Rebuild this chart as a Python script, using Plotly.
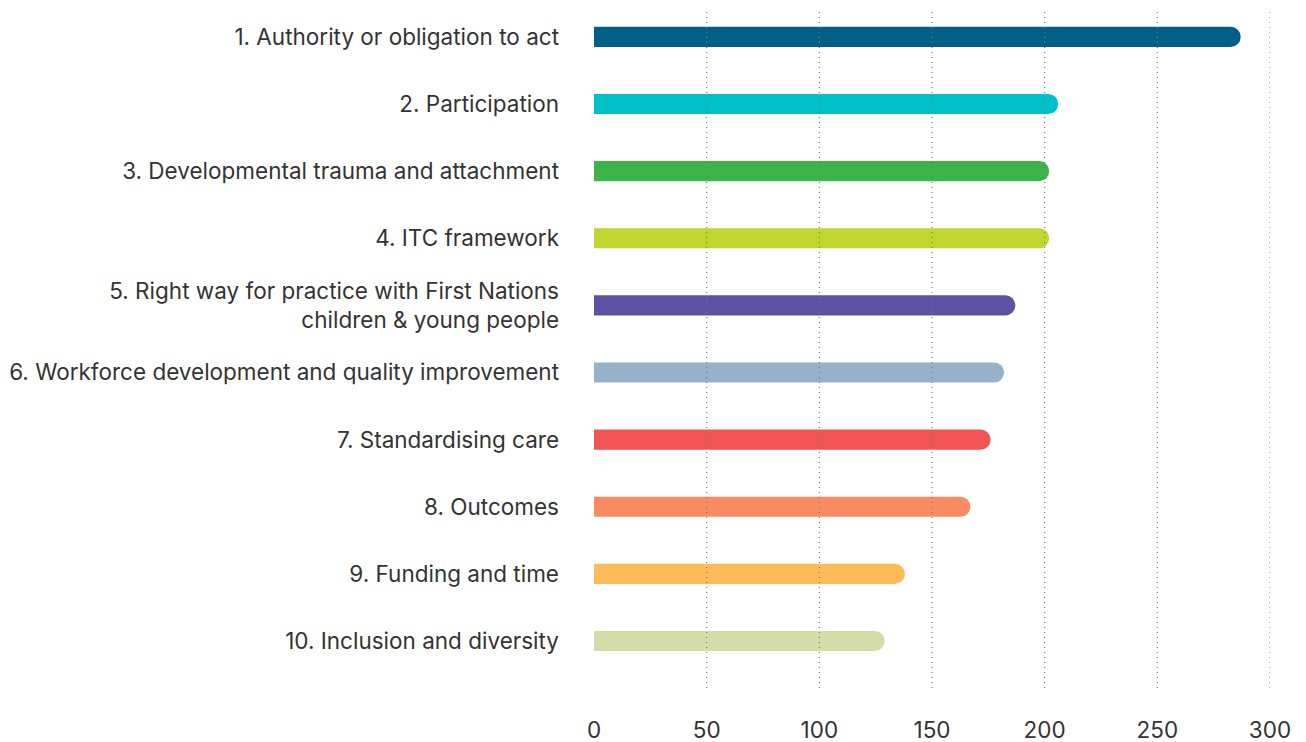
import plotly.graph_objects as go

categories = [
    "1. Authority or obligation to act",
    "2. Participation",
    "3. Developmental trauma and attachment",
    "4. ITC framework",
    "5. Right way for practice with First Nations<br>children & young people",
    "6. Workforce development and quality improvement",
    "7. Standardising care",
    "8. Outcomes",
    "9. Funding and time",
    "10. Inclusion and diversity",
]
values = [287, 206, 202, 202, 187, 182, 176, 167, 138, 129]
colors = ["#005F87", "#00C1CA", "#3BB44A", "#C1D62F", "#5B52A4",
          "#95B2C8", "#F15454", "#F98B62", "#FFBB58", "#D6DCA7"]
x_ticks = [0, 50, 100, 150, 200, 250, 300]

fig = go.Figure(go.Bar(
    x=values, y=categories, orientation="h",
    marker=dict(color=colors, cornerradius=10, line=dict(width=0)),
    width=0.3, hoverinfo="x+y",
))

# dotted gridlines drawn above bars
for t in x_ticks[1:]:
    fig.add_shape(type="line", xref="x", yref="paper", x0=t, x1=t, y0=0, y1=1,
                  line=dict(color="#777777", width=1.2, dash="1px,4px"),
                  layer="above")

fig.update_layout(
    width=1306, height=742,
    margin=dict(l=594, r=36, t=8, b=54),
    paper_bgcolor="white", plot_bgcolor="white",
    font=dict(family="Inter, sans-serif", color="#333333"),
    showlegend=False,
)
fig.update_xaxes(
    range=[0, 300], tickvals=x_ticks, showgrid=False, zeroline=False, showline=False,
    tickfont=dict(size=22.5, color="#333333"), ticklabelstandoff=26, automargin=False,
)
fig.update_yaxes(
    categoryorder="array", categoryarray=categories,
    range=[9.7, -0.43], showgrid=False, zeroline=False, showline=False,
    tickfont=dict(size=22.5, color="#333333"), ticklabelstandoff=34, automargin=False,
)

fig.write_html("out.html", config={"displayModeBar": False},
               post_script="document.body.style.margin='0';document.body.style.overflow='hidden';")
